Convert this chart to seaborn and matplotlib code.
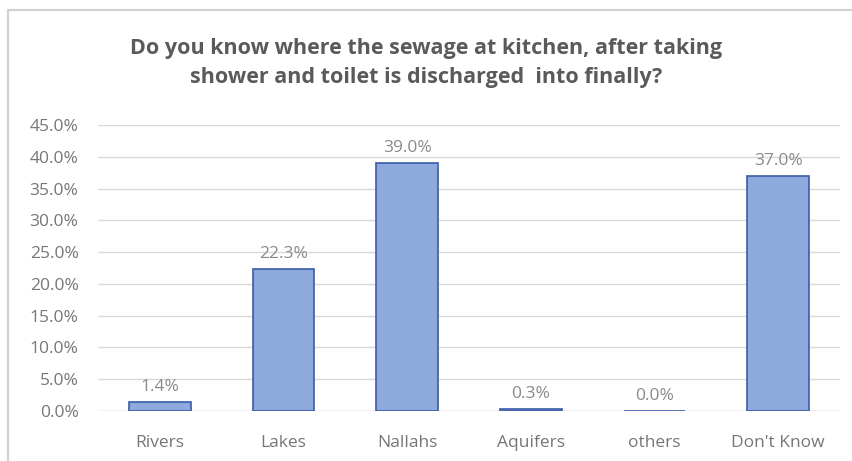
import matplotlib

matplotlib.use("Agg")
import matplotlib.pyplot as plt
import seaborn as sns
from matplotlib.lines import Line2D
from matplotlib.ticker import FuncFormatter

categories = ["Rivers", "Lakes", "Nallahs", "Aquifers", "others", "Don't Know"]
shares = [1.4, 22.3, 39.0, 0.3, 0.0, 37.0]
title = ("Do you know where the sewage at kitchen, after taking\n"
         "shower and toilet is discharged  into finally?")

sns.set_theme(style="white")
plt.rcParams["font.family"] = ["Open Sans", "DejaVu Sans"]

fig = plt.figure(figsize=(8.53, 4.61), dpi=100)
ax = fig.add_axes([98 / 853, 50 / 461, 742 / 853, 286 / 461])

sns.barplot(x=categories, y=shares, ax=ax, width=0.5,
            color="#8eaadc", edgecolor="#3a5ba8", linewidth=1.2, saturation=1)

for c in ax.containers:
    ax.bar_label(c, labels=[f"{v:.1f}%" for v in shares], padding=5,
                 color="#8a8a8a", fontsize=12.5)

ax.set_ylim(0, 45)
ax.set_yticks(range(0, 46, 5))
ax.yaxis.set_major_formatter(FuncFormatter(lambda v, _: f"{v:.1f}%"))
ax.set_xlim(-0.5, len(categories) - 0.5)
ax.grid(axis="y", color="#d9d9d9", linewidth=1)
ax.set_axisbelow(True)
sns.despine(ax=ax, left=True, bottom=True)
ax.axhline(0, color="#d9d9d9", linewidth=1, zorder=0)
ax.tick_params(axis="both", length=0, labelsize=12.5, labelcolor="#767676")
ax.tick_params(axis="y", pad=14)
ax.tick_params(axis="x", pad=17)

fig.text(0.5, 1 - 63 / 461, title, ha="center", va="center",
         fontsize=15.5, fontweight="bold", color="#5a5a5a", linespacing=1.55)

# outer chart frame (partly cropped in the original)
fig.add_artist(Line2D([8 / 853, 1], [1 - 10 / 461] * 2, color="#d0d0d0", lw=1.5))
fig.add_artist(Line2D([8 / 853] * 2, [0, 1 - 10 / 461], color="#d0d0d0", lw=1.5))

fig.savefig("out.png", dpi=100)
